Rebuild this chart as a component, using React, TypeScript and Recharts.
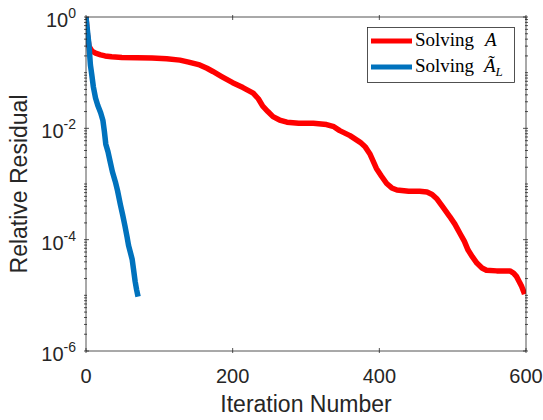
import { Legend, Line, LineChart, XAxis, YAxis } from "recharts";

// iteration counts and relative residuals
const redIter = [
  0, 1, 2, 4, 8, 13, 20, 26, 35, 49, 70, 90, 110, 128, 140, 155, 165, 173,
  185, 200, 214, 228, 235, 241, 248, 255, 264, 274, 290, 310, 328, 338, 346,
  360, 374, 381, 387, 396, 403, 410, 417, 424, 440, 455, 465, 472, 478, 487,
  496, 503, 510, 516, 521, 527, 533, 540, 546, 560, 578, 583, 587, 591, 594,
  597, 598,
];
const redRes = [
  1, 0.66, 0.48, 0.3, 0.245, 0.224, 0.209, 0.2, 0.193, 0.188, 0.186, 0.184,
  0.178, 0.168, 0.155, 0.138, 0.12, 0.105, 0.085, 0.066, 0.054, 0.043, 0.034,
  0.025, 0.02, 0.0162, 0.0141, 0.0129, 0.0123, 0.0123, 0.0117, 0.0107, 0.0091,
  0.0074, 0.0056, 0.0046, 0.0035, 0.0019, 0.00138, 0.00102, 0.00085, 0.00078,
  0.00074, 0.00074, 0.00072, 0.00065, 0.00055, 0.00038, 0.00026, 0.00019,
  0.000129, 0.000093, 0.000065, 0.000049, 0.000038, 0.000031, 0.0000282,
  0.0000275, 0.0000275, 0.0000251, 0.0000219, 0.0000174, 0.0000145,
  0.0000115, 0.0000105,
];

const blueIter = [
  0, 2, 4, 6, 8, 10, 13, 16, 20, 23, 25, 27, 30, 33, 36, 40, 43, 47, 50, 53,
  56, 58, 61, 63, 65, 67, 69, 71,
];
const blueRes = [
  1, 0.56, 0.32, 0.138, 0.089, 0.056, 0.035, 0.026, 0.019, 0.014, 0.0089,
  0.0052, 0.0038, 0.0025, 0.00166, 0.0011, 0.00076, 0.00042, 0.00028, 0.00018,
  0.000112, 0.000079, 0.000056, 0.000044, 0.000028, 0.0000178, 0.0000126,
  0.0000095,
];

const xTicks = [0, 200, 400, 600];
const yDecades = [1e-6, 1e-5, 1e-4, 1e-3, 1e-2, 1e-1, 1];

const redData = redIter.map((x, i) => ({ x, y: redRes[i] }));
const blueData = blueIter.map((x, i) => ({ x, y: blueRes[i] }));

// log axis ticks: every decade plus 2..9 minor marks
const yTicks: number[] = [];
yDecades.forEach((d) => {
  yTicks.push(d);
  if (d < 1) for (let k = 2; k <= 9; k++) yTicks.push(+(d * k).toPrecision(3));
});

const AXIS = "#262626";
const SANS = "'Liberation Sans', Arial, sans-serif";
const SERIF = "'Liberation Serif', 'DejaVu Serif', serif";

const YTick = (props: any) => {
  const { x, y, payload, side } = props;
  const v = payload.value;
  const e = Math.round(Math.log10(v));
  const decade = Math.abs(v - Math.pow(10, e)) < v * 1e-6;
  const major = decade && e % 2 === 0;
  const len = major ? 5 : 3;
  const dir = side === "right" ? -1 : 1;
  return (
    <g>
      <line x1={x} x2={x + dir * len} y1={y} y2={y} stroke={AXIS} strokeWidth={0.8} />
      {major && side !== "right" && (
        <text x={x - 8} y={y + 10} textAnchor="end" fill={AXIS} fontFamily={SANS} fontSize={20}>
          10
          <tspan dy={-9} fontSize={14}>
            {e === 0 ? "0" : String(e)}
          </tspan>
        </text>
      )}
    </g>
  );
};

const XTick = (props: any) => {
  const { x, y, payload, side } = props;
  const dir = side === "top" ? 1 : -1;
  return (
    <g>
      <line x1={x} x2={x} y1={y} y2={y + dir * 5} stroke={AXIS} strokeWidth={0.8} />
      {side !== "top" && (
        <text x={x} y={y + 30} textAnchor="middle" fill={AXIS} fontFamily={SANS} fontSize={20}>
          {payload.value}
        </text>
      )}
    </g>
  );
};

const LegendBox = () => (
  <svg width={148} height={56} style={{ display: "block" }}>
    <rect x={0.5} y={0.5} width={147} height={55} fill="#fff" stroke={AXIS} strokeWidth={0.8} />
    <line x1={4} x2={45} y1={14} y2={14} stroke="#ff0000" strokeWidth={5} />
    <text x={48} y={19} fontFamily={SERIF} fontSize={19} fill="#000">
      Solving
    </text>
    <text x={118} y={19} fontFamily={SERIF} fontSize={19} fontStyle="italic" fill="#000">
      A
    </text>
    <line x1={4} x2={45} y1={40} y2={40} stroke="#0072bd" strokeWidth={5} />
    <text x={48} y={45} fontFamily={SERIF} fontSize={19} fill="#000">
      Solving
    </text>
    <text x={117} y={45} fontFamily={SERIF} fontSize={19} fontStyle="italic" fill="#000">
      {"A\u0303"}
      <tspan dy={4} fontSize={13}>
        L
      </tspan>
    </text>
  </svg>
);

export default function App() {
  return (
    <div style={{ position: "absolute", left: 0, top: 0, background: "#fff" }}>
      <LineChart width={543} height={420} margin={{ top: 16, right: 16, left: 0, bottom: 0 }}>
        <XAxis
          type="number"
          dataKey="x"
          domain={[0, 600]}
          allowDataOverflow
          ticks={xTicks}
          interval={0}
          height={69}
          tickSize={0}
          tickLine={false}
          stroke={AXIS}
          strokeWidth={0.8}
          tick={<XTick side="bottom" />}
          label={({ viewBox }: any) => (
            <text
              x={viewBox.x + viewBox.width / 2}
              y={viewBox.y + 61}
              textAnchor="middle"
              fill={AXIS}
              fontFamily={SANS}
              fontSize={23}
            >
              Iteration Number
            </text>
          )}
        />
        {/* mirrored axes need a non-zero box or recharts skips drawing them */}
        <XAxis
          xAxisId="top"
          orientation="top"
          type="number"
          dataKey="x"
          domain={[0, 600]}
          allowDataOverflow
          ticks={xTicks}
          interval={0}
          height={1}
          tickSize={0}
          tickLine={false}
          stroke={AXIS}
          strokeWidth={0.8}
          tick={<XTick side="top" />}
        />
        <YAxis
          scale="log"
          domain={[1e-6, 1]}
          allowDataOverflow
          ticks={yTicks}
          interval={0}
          width={86}
          tickSize={0}
          tickLine={false}
          stroke={AXIS}
          strokeWidth={0.8}
          tick={<YTick side="left" />}
          label={({ viewBox }: any) => (
            <text
              x={19}
              y={viewBox.y + viewBox.height / 2}
              transform={`rotate(-90 19 ${viewBox.y + viewBox.height / 2})`}
              textAnchor="middle"
              dominantBaseline="central"
              fill={AXIS}
              fontFamily={SANS}
              fontSize={23}
            >
              Relative Residual
            </text>
          )}
        />
        <YAxis
          yAxisId="right"
          orientation="right"
          scale="log"
          domain={[1e-6, 1]}
          allowDataOverflow
          ticks={yTicks}
          interval={0}
          width={1}
          tickSize={0}
          tickLine={false}
          stroke={AXIS}
          strokeWidth={0.8}
          tick={<YTick side="right" />}
        />
        <Legend
          layout="horizontal"
          verticalAlign="middle"
          align="center"
          content={() => <LegendBox />}
          wrapperStyle={{ left: 367, top: 27, width: 148, height: 56 }}
        />
        {/* both series share identical domains; each is tied to one of the mirrored axes so all four render */}
        <Line
          data={redData}
          dataKey="y"
          xAxisId="top"
          type="linear"
          stroke="#ff0000"
          strokeWidth={5.5}
          strokeLinejoin="round"
          dot={false}
          isAnimationActive={false}
        />
        <Line
          data={blueData}
          dataKey="y"
          yAxisId="right"
          type="linear"
          stroke="#0072bd"
          strokeWidth={5.5}
          strokeLinejoin="round"
          dot={false}
          isAnimationActive={false}
        />
      </LineChart>
    </div>
  );
}
